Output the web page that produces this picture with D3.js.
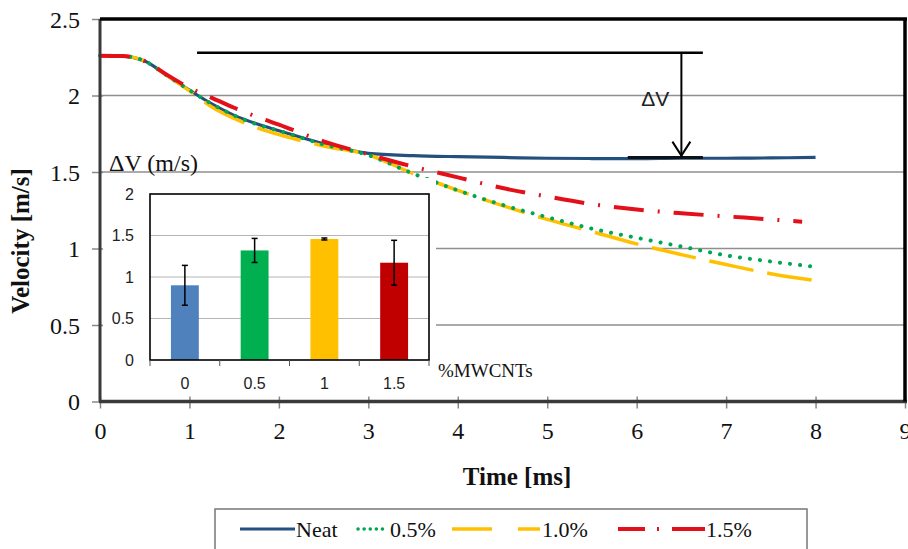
<!DOCTYPE html>
<html><head><meta charset="utf-8">
<script src="https://cdn.jsdelivr.net/npm/d3@7"></script>
<style>
html,body{margin:0;padding:0;background:#fff;}
svg{display:block;}
</style></head>
<body>
<svg id="c" width="908" height="549"></svg>
<script>
// ---- data ----
const time = [0, 0.25, 0.5, 0.75, 1, 1.25, 1.5, 1.75, 2, 2.5, 3, 3.5, 4, 4.5, 5, 5.5, 6, 6.5, 7, 7.5, 8];
const neat  = [2.26, 2.258, 2.225, 2.13, 2.035, 1.945, 1.87, 1.815, 1.77, 1.685, 1.622, 1.607, 1.60, 1.595, 1.59, 1.588, 1.587, 1.59, 1.59, 1.592, 1.595];
const mw05  = [2.26, 2.258, 2.225, 2.13, 2.035, 1.945, 1.87, 1.812, 1.77, 1.68, 1.61, 1.49, 1.38, 1.285, 1.205, 1.13, 1.07, 1.013, 0.955, 0.915, 0.88];
const mw10  = [2.26, 2.258, 2.225, 2.13, 2.03, 1.925, 1.85, 1.79, 1.745, 1.67, 1.612, 1.49, 1.38, 1.28, 1.19, 1.11, 1.03, 0.96, 0.895, 0.835, 0.79];
const time15 = [0, 0.25, 0.5, 0.75, 1, 1.25, 1.5, 1.75, 2, 2.5, 3, 3.5, 4, 4.5, 5, 5.5, 6, 6.5, 7, 7.5, 7.85];
const mw15  = [2.26, 2.258, 2.225, 2.135, 2.05, 1.985, 1.92, 1.862, 1.81, 1.70, 1.615, 1.535, 1.465, 1.395, 1.34, 1.29, 1.255, 1.23, 1.21, 1.19, 1.175];
const seriesNames = ["Neat", "0.5%", "1.0%", "1.5%"];
const xTicks = [0,1,2,3,4,5,6,7,8,9];
const yTicks = [0,0.5,1,1.5,2,2.5];

// inset bar chart
const insetCats = ["0", "0.5", "1", "1.5"];
const insetVals = [0.9, 1.32, 1.458, 1.172];
const insetErr  = [0.24, 0.145, 0.012, 0.27];
const insetTicks = [0, 0.5, 1, 1.5, 2];

// ΔV annotation
const dvTop = 2.28, dvStart = 1.085, dvEnd = 6.74, dvArrowT = 6.5, dvLevel = 1.594, dvSegStart = 5.9;

// ---- drawing ----
const svg = d3.select("#c");
const x = d3.scaleLinear().domain([0,9]).range([100,905]);
const y = d3.scaleLinear().domain([0,2.5]).range([401.5,19]);
const serif = "'Liberation Serif','Times New Roman',serif";
const sans = "'Liberation Sans',Arial,sans-serif";

// gridlines
svg.append("g").selectAll("line").data(yTicks.filter(v=>v>0 && v<2.5)).join("line")
  .attr("x1", x(0)).attr("x2", x(9)).attr("y1", d=>y(d)).attr("y2", d=>y(d))
  .attr("stroke", "#8f8f8f").attr("stroke-width", 1.3);

const line = d3.line().curve(d3.curveMonotoneX);
const mk = (ts, vs) => ts.map((t,i)=>[x(t), y(vs[i])]);

const styles = [
  {data: mk(time, neat), color:"#24507f", w:3.2, dash:null, cap:"butt"},
  {data: mk(time, mw05), color:"#00a651", w:4, dash:"0.1 10", cap:"round"},
  {data: mk(time, mw10), color:"#ffc000", w:3.5, dash:"45 14", cap:"butt"},
  {data: mk(time15, mw15), color:"#e3101a", w:4, dash:"30 14 2 14", cap:"butt"}
];
const order = [0,2,1,3];
order.forEach(i => {
  const s = styles[i];
  svg.append("path").attr("d", line(s.data)).attr("fill","none")
    .attr("stroke", s.color).attr("stroke-width", s.w)
    .attr("stroke-dasharray", s.dash).attr("stroke-linecap", s.cap);
});

// ΔV annotation
svg.append("line").attr("x1", x(dvStart)).attr("x2", x(dvEnd)).attr("y1", y(dvTop)).attr("y2", y(dvTop))
  .attr("stroke","#000").attr("stroke-width",2.5);
svg.append("line").attr("x1", x(dvSegStart)).attr("x2", x(dvEnd)).attr("y1", y(dvLevel)).attr("y2", y(dvLevel))
  .attr("stroke","#111").attr("stroke-width",3);
svg.append("line").attr("x1", x(dvArrowT)).attr("x2", x(dvArrowT)).attr("y1", y(dvTop)).attr("y2", y(dvLevel)-1)
  .attr("stroke","#000").attr("stroke-width",2);
svg.append("path")
  .attr("d", `M${x(dvArrowT)-9},${y(dvLevel)-16} L${x(dvArrowT)},${y(dvLevel)-2} L${x(dvArrowT)+9},${y(dvLevel)-16}`)
  .attr("fill","none").attr("stroke","#000").attr("stroke-width",2);
svg.append("text").attr("x", x(dvArrowT)-12).attr("y", 106).attr("text-anchor","end")
  .attr("font-family", sans).attr("font-size", 21).attr("fill","#222").text("ΔV");

// ---- inset ----
svg.append("rect").attr("x", 102).attr("y", 178).attr("width", 334).attr("height", 218).attr("fill","#fff");
const xi = d3.scaleBand().domain(insetCats).range([150,429]).paddingInner(0.6).paddingOuter(0.3);
const yi = d3.scaleLinear().domain([0,2]).range([360,194]);
const gi = svg.append("g");
gi.selectAll("line.g").data(insetTicks.filter(v=>v>0 && v<2)).join("line")
  .attr("x1",150).attr("x2",429).attr("y1",d=>yi(d)).attr("y2",d=>yi(d))
  .attr("stroke","#b5b5b5").attr("stroke-width",1.2);
const barColors = ["#4f81bd","#00b050","#ffc000","#c00000"];
gi.selectAll("rect.b").data(insetVals).join("rect")
  .attr("x",(d,i)=>xi(insetCats[i])).attr("width", xi.bandwidth())
  .attr("y", d=>yi(d)).attr("height", d=>yi(0)-yi(d)).attr("fill",(d,i)=>barColors[i]);
insetVals.forEach((v,i)=>{
  const cx = xi(insetCats[i]) + xi.bandwidth()/2;
  const e = insetErr[i];
  gi.append("line").attr("x1",cx).attr("x2",cx).attr("y1",yi(v+e)).attr("y2",yi(v-e)).attr("stroke","#000").attr("stroke-width",1.5);
  [v+e, v-e].forEach(w => gi.append("line").attr("x1",cx-3).attr("x2",cx+3).attr("y1",yi(w)).attr("y2",yi(w)).attr("stroke","#000").attr("stroke-width",1.5));
});
gi.append("rect").attr("x",150).attr("y",194).attr("width",279).attr("height",166)
  .attr("fill","none").attr("stroke","#000").attr("stroke-width",1.6);
const step = xi.step();
gi.selectAll("line.t").data(d3.range(5)).join("line")
  .attr("x1",d=>150+d*step).attr("x2",d=>150+d*step).attr("y1",360).attr("y2",366)
  .attr("stroke","#555").attr("stroke-width",1);
gi.selectAll("text.yl").data(insetTicks).join("text")
  .attr("x",134).attr("y",d=>yi(d)+5.5).attr("text-anchor","end")
  .attr("font-family",sans).attr("font-size",16).attr("fill","#222").text(d=>d);
gi.selectAll("text.xl").data(insetCats).join("text")
  .attr("x",d=>xi(d)+xi.bandwidth()/2).attr("y",389).attr("text-anchor","middle")
  .attr("font-family",sans).attr("font-size",16).attr("fill","#222").text(d=>d);
svg.append("text").attr("x",438).attr("y",377).attr("font-family",serif).attr("font-size",19).attr("fill","#111").text("%MWCNTs");
svg.append("text").attr("x",109).attr("y",171).attr("font-family",serif).attr("font-size",24).attr("fill","#111").text("ΔV (m/s)");

// ---- axes ----
const ax = svg.append("g").attr("transform",`translate(0,${y(0)})`)
  .call(d3.axisBottom(x).tickValues(xTicks).tickSize(7).tickPadding(13).tickFormat(d3.format("d")));
ax.select(".domain").remove();
ax.selectAll(".tick line").attr("y1",-5).attr("stroke","#888").attr("stroke-width",1.5);
ax.selectAll("text").attr("font-family",serif).attr("font-size",24).attr("fill","#111");

const ay = svg.append("g").attr("transform",`translate(${x(0)},0)`)
  .call(d3.axisLeft(y).tickValues(yTicks).tickSize(8).tickPadding(12).tickFormat(d=>d));
ay.select(".domain").remove();
ay.selectAll(".tick line").attr("x1",3).attr("stroke","#888").attr("stroke-width",1.5);
ay.selectAll("text").attr("font-family",serif).attr("font-size",24).attr("fill","#111").attr("dy","0.34em");

// axis lines / borders
svg.append("line").attr("x1",x(0)).attr("x2",x(0)).attr("y1",y(2.5)).attr("y2",y(0)).attr("stroke","#3a3a3a").attr("stroke-width",3);
svg.append("line").attr("x1",x(0)-1).attr("x2",x(9)+2).attr("y1",y(0)).attr("y2",y(0)).attr("stroke","#3a3a3a").attr("stroke-width",3.5);
svg.append("line").attr("x1",x(0)).attr("x2",x(9)+2).attr("y1",y(2.5)).attr("y2",y(2.5)).attr("stroke","#000").attr("stroke-width",3.5);
svg.append("line").attr("x1",x(9)).attr("x2",x(9)).attr("y1",y(2.5)).attr("y2",y(0)).attr("stroke","#000").attr("stroke-width",3.5);

// axis titles
svg.append("text").attr("transform","translate(29,241) rotate(-90)").attr("text-anchor","middle")
  .attr("font-family",serif).attr("font-weight","bold").attr("font-size",25).attr("fill","#111").text("Velocity [m/s]");
svg.append("text").attr("x",517).attr("y",485).attr("text-anchor","middle")
  .attr("font-family",serif).attr("font-weight","bold").attr("font-size",25).attr("fill","#111").text("Time [ms]");

// ---- legend ----
const lg = svg.append("g");
lg.append("rect").attr("x",215).attr("y",509).attr("width",592).attr("height",60)
  .attr("fill","#fff").attr("stroke","#777").attr("stroke-width",1.5);
const legItems = [
  {x1:240, x2:295, tx:296, color:"#24507f", w:3, dash:null, cap:"butt"},
  {x1:358, x2:388, tx:390, color:"#00a651", w:3.5, dash:"0.1 6", cap:"round"},
  {x1:452, x2:540, tx:542, color:"#ffc000", w:3.5, dash:"40 26 22", cap:"butt"},
  {x1:618, x2:705, tx:706, color:"#e3101a", w:4, dash:"27 12 2 13 40", cap:"butt"}
];
legItems.forEach((it,i)=>{
  lg.append("line").attr("x1",it.x1).attr("x2",it.x2).attr("y1",529).attr("y2",529)
    .attr("stroke",it.color).attr("stroke-width",it.w).attr("stroke-dasharray",it.dash).attr("stroke-linecap",it.cap);
  lg.append("text").attr("x",it.tx).attr("y",537).attr("font-family",serif).attr("font-size",22).attr("fill","#111").text(seriesNames[i]);
});
</script>
</body></html>
